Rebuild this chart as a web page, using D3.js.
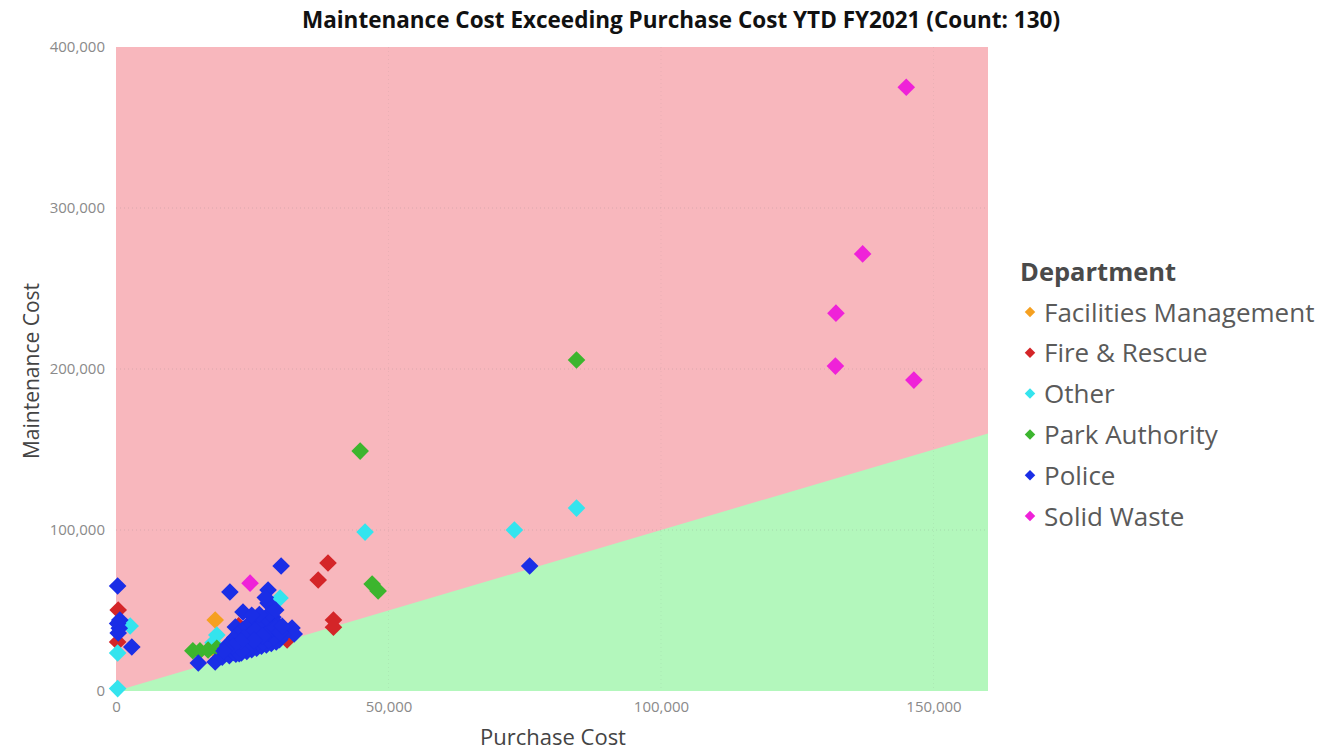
<!DOCTYPE html>
<html>
<head>
<meta charset="utf-8">
<script src="https://cdn.jsdelivr.net/npm/d3@7"></script>
<style>
  html, body { margin: 0; padding: 0; background: #fff; }
  svg { display: block; }
</style>
</head>
<body>
<svg id="chart" width="1336" height="754"></svg>
<script>
// ---- data ----
const chartTitle = "Maintenance Cost Exceeding Purchase Cost YTD FY2021 (Count: 130)";
const departments = ["Facilities Management", "Fire & Rescue", "Other", "Park Authority", "Police", "Solid Waste"];
const xTicks = [0, 50000, 100000, 150000];
const yTicks = [0, 100000, 200000, 300000, 400000];
const xMax = 160000;
const yMax = 400000;

// [purchase cost, maintenance cost]
const facilitiesManagement = [[18200, 44100], [17800, 26500]];
const fireRescue = [[38900, 79500], [37100, 68900], [39900, 44100], [39900, 39600], [31400, 31700],
  [400, 50300], [300, 30400], [22500, 40500], [26000, 28000]];
const other = [[84500, 113600], [73100, 100000], [45700, 98700], [30100, 57800], [2600, 40400],
  [300, 23600], [300, 1500], [18500, 34800], [17800, 30000]];
const parkAuthority = [[84500, 205600], [44800, 149000], [47000, 66400], [48100, 62100], [14100, 25000],
  [15400, 25000], [16900, 25500], [18500, 26500], [22500, 33500], [24000, 37000]];
const police = [[75900, 77600], [30300, 77600], [300, 65200], [700, 44100], [600, 39000], [2900, 27300],
  [20900, 61500], [27900, 62700], [27900, 54600], [23300, 49100], [21900, 39700], [21500, 31700],
  [15100, 17400], [18200, 18000], [32300, 39100], [32700, 35400], [300, 42000], [400, 36000],
  [19500, 21000], [20200, 23500], [20800, 22000], [21200, 25800], [21600, 24000], [22000, 22800],
  [22300, 27500], [22700, 25200], [23000, 23600], [23400, 29000], [23700, 26800], [24000, 24500],
  [24300, 31200], [24600, 28300], [24900, 25600], [25200, 33000], [25500, 29700], [25800, 26600],
  [26100, 35100], [26400, 31000], [26700, 27800], [27000, 36800], [27300, 32600], [27600, 28600],
  [27900, 38200], [28200, 34000], [28500, 29500], [28800, 40000], [29100, 35600], [29400, 30500],
  [29700, 37200], [30000, 31800], [30300, 33500], [30600, 35000], [20500, 28500], [21000, 30000],
  [21800, 33200], [22500, 35500], [23200, 37800], [24000, 40200], [24800, 42500], [25600, 44800],
  [26400, 38500], [27200, 41000], [28000, 43500], [28800, 45800], [29600, 41500], [22600, 23100],
  [25000, 27200], [26000, 30200], [27000, 30000], [28000, 31500], [29000, 33000], [24500, 35000],
  [23500, 33000], [26500, 40500], [25500, 37500], [24200, 26200], [23100, 24900], [27800, 36000],
  [28600, 38700], [26900, 34200], [25300, 31400], [22900, 30800], [21400, 27700], [20100, 26200],
  [19800, 24800], [29200, 39300], [30100, 36400], [27500, 45500], [28200, 48000], [29300, 50300],
  [26300, 47500], [24900, 47000], [27400, 58000], [30500, 40200]];
const solidWaste = [[145000, 375000], [137000, 271500], [132100, 234700], [132000, 201800],
  [146400, 193100], [24600, 67000]];

const seriesData = [facilitiesManagement, fireRescue, other, parkAuthority, police, solidWaste];
const colors = ["#f5a020", "#d42528", "#34e4ee", "#3cb52e", "#1a2ee6", "#ef22d8"];

// ---- layout ----
const svg = d3.select("#chart");
const pLeft = 116, pRight = 988, pTop = 47, pBottom = 691;
const x = d3.scaleLinear().domain([0, xMax]).range([pLeft, pRight]);
const y = d3.scaleLinear().domain([0, yMax]).range([pBottom, pTop]);
const color = d3.scaleOrdinal().domain(departments).range(colors);

// background regions
svg.append("rect").attr("x", pLeft).attr("y", pTop)
  .attr("width", pRight - pLeft).attr("height", pBottom - pTop).attr("fill", "#f8b7bd");
svg.append("path")
  .attr("d", d3.line()([[x(0), y(0)], [x(xMax), y(xMax)], [x(xMax), y(0)]]) + "Z")
  .attr("fill", "#b3f7bc");

// gridlines
const grid = svg.append("g");
grid.selectAll("line.h").data(yTicks.filter(d => d > 0 && d < yMax)).join("line")
  .attr("x1", pLeft).attr("x2", pRight).attr("y1", d => y(d)).attr("y2", d => y(d))
  .attr("stroke", "rgba(120,120,120,0.22)").attr("stroke-dasharray", "1,3");
grid.selectAll("line.v").data(xTicks.filter(d => d > 0)).join("line")
  .attr("y1", pTop).attr("y2", pBottom).attr("x1", d => x(d)).attr("x2", d => x(d))
  .attr("stroke", "rgba(120,120,120,0.10)").attr("stroke-dasharray", "1,3");

// axes
const fmt = d3.format(",");
const xAxis = svg.append("g").attr("transform", `translate(0,${pBottom + 7})`)
  .call(d3.axisBottom(x).tickValues(xTicks).tickFormat(fmt).tickSize(0));
const yAxis = svg.append("g").attr("transform", `translate(${pLeft - 8},0)`)
  .call(d3.axisLeft(y).tickValues(yTicks).tickFormat(fmt).tickSize(0));
[xAxis, yAxis].forEach(a => {
  a.select(".domain").remove();
  a.selectAll("text").attr("fill", "#8a8a8a").style("font-family", "'Open Sans', sans-serif")
    .style("font-size", "15px");
});

// points
const sym = d3.symbol().type(d3.symbolSquare).size(155);
seriesData.forEach((pts, i) => {
  svg.append("g").selectAll("path").data(pts).join("path")
    .attr("d", sym)
    .attr("transform", d => `translate(${x(d[0])},${y(d[1])}) rotate(45)`)
    .attr("fill", color(departments[i]));
});

// title
svg.append("text").attr("x", 681).attr("y", 28).attr("text-anchor", "middle")
  .style("font-family", "'Open Sans', sans-serif").style("font-weight", "bold").style("font-size", "22.5px")
  .attr("fill", "#111").text(chartTitle);

// axis titles
svg.append("text").attr("x", 553).attr("y", 745).attr("text-anchor", "middle")
  .style("font-family", "'Open Sans', sans-serif").style("font-size", "22px").attr("fill", "#444")
  .text("Purchase Cost");
svg.append("text").attr("transform", "translate(39,371) rotate(-90)").attr("text-anchor", "middle")
  .style("font-family", "'Open Sans', sans-serif").style("font-size", "21px").attr("fill", "#444")
  .text("Maintenance Cost");

// legend
const lg = svg.append("g");
lg.append("text").attr("x", 1020).attr("y", 281)
  .style("font-family", "'Open Sans', sans-serif").style("font-weight", "bold").style("font-size", "25.5px")
  .attr("fill", "#4a4a4a").text("Department");
const legSym = d3.symbol().type(d3.symbolSquare).size(55);
const items = lg.selectAll("g.item").data(departments).join("g")
  .attr("transform", (d, i) => `translate(1030,${312 + i * 40.8})`);
items.append("path").attr("d", legSym).attr("transform", "rotate(45)").attr("fill", d => color(d));
items.append("text").attr("x", 14).attr("y", 9.5)
  .style("font-family", "'Open Sans', sans-serif").style("font-size", "26px").attr("fill", "#5a5a5a")
  .text(d => d);
</script>
</body>
</html>
